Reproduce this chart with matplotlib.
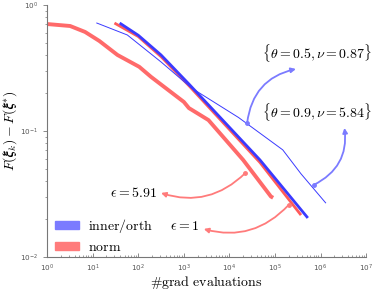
import matplotlib
matplotlib.use("Agg")
import matplotlib.pyplot as plt
from matplotlib.patches import Patch

plt.rcParams['mathtext.fontset'] = 'cm'

# ---- data ----
norm_eps591_x = [1, 3.2, 6.8, 14, 35, 105, 190, 1000, 1290, 3470, 20000, 81300, 91000]
norm_eps591_y = [0.706, 0.681, 0.611, 0.518, 0.401, 0.323, 0.269, 0.170, 0.152, 0.122, 0.0589, 0.0302, 0.0295]

norm_eps1_x = [30, 100, 316, 1290, 46800, 372000]
norm_eps1_y = [0.719, 0.562, 0.389, 0.229, 0.0562, 0.0215]

inner_theta05_x = [39, 100, 316, 1290, 46800, 525000]
inner_theta05_y = [0.719, 0.575, 0.401, 0.236, 0.0589, 0.0204]

inner_theta09_x = [12.3, 57.5, 316, 1480, 15800, 148000, 372000, 1290000]
inner_theta09_y = [0.719, 0.578, 0.353, 0.219, 0.128, 0.0708, 0.0457, 0.0269]

legend_labels = ['inner/orth', 'norm']
x_ticks = [10.0**k for k in range(0, 8)]
y_ticks = [1e-2, 1e-1, 1e0]

BLUE = '#3a3aff'
BLUE_L = '#7b7bff'
RED_L = '#ff7b7b'

fig = plt.figure(figsize=(3.74, 2.93), dpi=100)
ax = fig.add_axes([0.126, 0.123, 0.853, 0.860])

ax.plot(norm_eps591_x, norm_eps591_y, color='#ff6a6a', lw=2.8, solid_capstyle='butt')
ax.plot(norm_eps1_x, norm_eps1_y, color='#ff5a5a', lw=2.0, solid_capstyle='butt')
ax.plot(inner_theta05_x, inner_theta05_y, color=BLUE, lw=2.0, solid_capstyle='butt')
ax.plot(inner_theta09_x, inner_theta09_y, color=BLUE, lw=0.7)

ax.set_xscale('log')
ax.set_yscale('log')
ax.set_xlim(1, 1e7)
ax.set_ylim(1e-2, 1e0)
ax.set_xticks(x_ticks)
ax.set_yticks(y_ticks)

for s in ['top', 'right']:
    ax.spines[s].set_visible(False)
for s in ['left', 'bottom']:
    ax.spines[s].set_color('#777777')
    ax.spines[s].set_linewidth(0.8)
ax.tick_params(axis='x', which='both', direction='in', colors='#777777', labelcolor='#555555', labelsize=5.2, pad=4)
ax.tick_params(axis='y', which='both', direction='out', colors='#777777', labelcolor='#555555', labelsize=5.2)
ax.tick_params(which='major', length=3, width=0.6)
ax.tick_params(which='minor', length=1.8, width=0.5)

ax.set_xlabel(r'$\#\mathrm{grad\ evaluations}$', fontsize=10, labelpad=0)
ax.set_ylabel(r'$F(\boldsymbol{\xi}_k)-F(\boldsymbol{\xi}^{*})$', fontsize=10, labelpad=1)

handles = [Patch(color=BLUE_L), Patch(color=RED_L)]
ax.legend(handles, [r'$\mathrm{%s}$' % l for l in legend_labels], loc='lower left',
          bbox_to_anchor=(0.025, 0.012), frameon=False, fontsize=10,
          borderpad=0, borderaxespad=0,
          handlelength=1.75, handleheight=0.5, handletextpad=0.6, labelspacing=0.35)

def note(text, text_xy, ha, dot_xy, head_xy, rad, color):
    ax.text(text_xy[0], text_xy[1], text, transform=ax.transAxes, ha=ha, va='center', fontsize=10)
    ax.annotate('', xy=head_xy, xycoords='axes fraction', xytext=dot_xy, textcoords='data',
                arrowprops=dict(arrowstyle='-|>', color=color, lw=1.3, mutation_scale=7,
                                shrinkA=0, shrinkB=0, connectionstyle='arc3,rad=%s' % rad))
    ax.plot([dot_xy[0]], [dot_xy[1]], 'o', color=color, ms=2.5)

note(r'$\{\theta=0.5,\nu=0.87\}$', (0.845, 0.810), 'center', (24500, 0.116), (0.780, 0.746), -0.35, BLUE_L)
note(r'$\{\theta=0.9,\nu=5.84\}$', (0.845, 0.575), 'center', (708000, 0.0373), (0.932, 0.512), 0.35, BLUE_L)
note(r'$\epsilon=5.91$', (0.345, 0.254), 'right', (22400, 0.0464), (0.357, 0.254), -0.3, RED_L)
note(r'$\epsilon=1$', (0.475, 0.123), 'right', (200000, 0.0259), (0.491, 0.111), -0.3, RED_L)

fig.savefig('out.png', dpi=100)
